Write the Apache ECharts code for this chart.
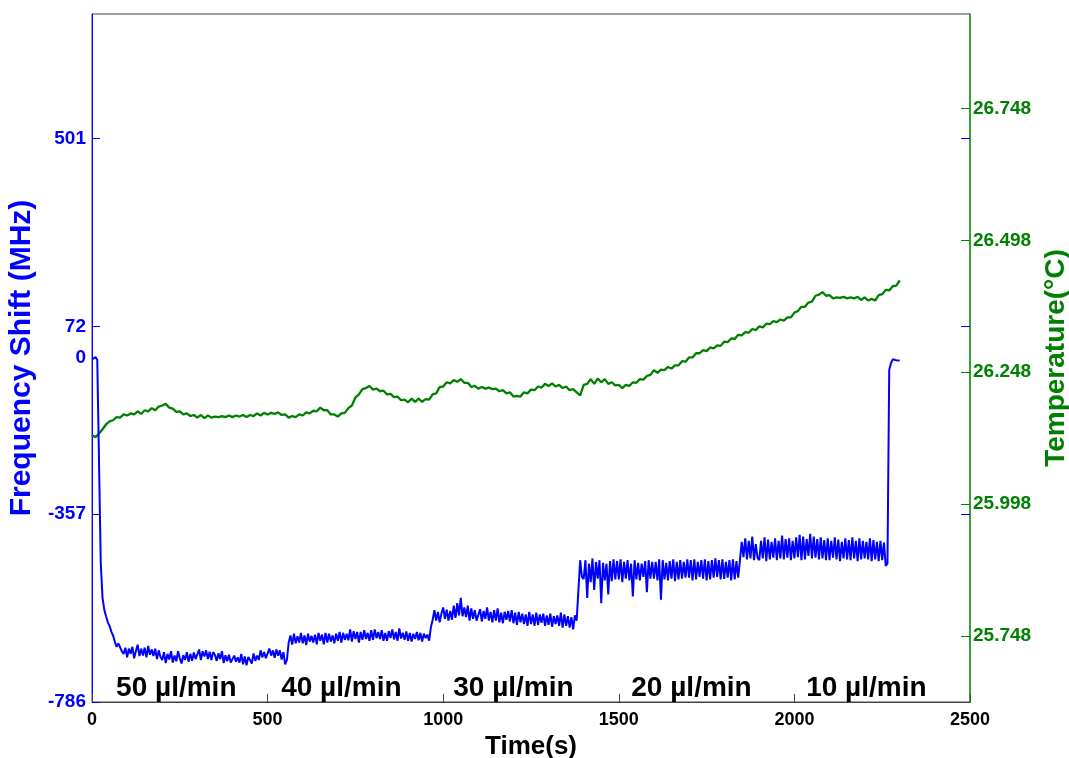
<!DOCTYPE html>
<html>
<head>
<meta charset="utf-8">
<title>Frequency shift and temperature</title>
<script src="https://cdn.jsdelivr.net/npm/echarts@6/dist/echarts.min.js"></script>
<style>
  html, body { margin: 0; padding: 0; background: #fff; }
  #chart { width: 1069px; height: 758px; }
</style>
</head>
<body>
<div id="chart"></div>
<script>
// sampling steps (s)
const freqStep = 5
const tempStep = 10

// frequency shift (MHz), one value every 5 s from 0 to 2300 s
const freqShift = [
  -3, 1, 2, -4, -6, -470, -548, -575, -590, -604, -612, -625, -634, -648, -660, -652, -648, -670, -676, -662,
  -684, -664, -676, -660, -686, -670, -655, -681, -664, -680, -662, -684, -658, -678, -666, -681, -664, -688, -668, -683,
  -690, -672, -697, -676, -689, -670, -696, -680, -693, -670, -686, -698, -679, -690, -672, -694, -676, -692, -673, -688,
  -684, -666, -690, -670, -682, -668, -688, -671, -690, -672, -678, -692, -675, -688, -670, -697, -679, -693, -678, -696,
  -700, -680, -694, -684, -696, -676, -700, -682, -702, -683, -690, -698, -675, -692, -680, -690, -668, -684, -672, -686,
  -682, -664, -680, -668, -685, -666, -680, -668, -689, -672, -700, -690, -650, -634, -655, -630, -652, -636, -650, -628,
  -652, -634, -656, -630, -648, -635, -650, -632, -654, -628, -646, -632, -654, -628, -650, -630, -648, -634, -652, -630,
  -646, -626, -650, -628, -644, -630, -645, -620, -648, -624, -642, -626, -650, -626, -644, -622, -642, -628, -646, -622,
  -644, -620, -640, -626, -642, -622, -646, -628, -646, -624, -640, -620, -643, -626, -646, -618, -641, -628, -644, -625,
  -646, -628, -648, -630, -642, -626, -645, -628, -648, -630, -640, -632, -646, -615, -598, -576, -600, -580, -604, -584,
  -570, -596, -575, -600, -578, -598, -566, -594, -560, -588, -548, -590, -570, -592, -566, -600, -572, -596, -576, -600,
  -598, -574, -602, -578, -596, -570, -600, -580, -604, -576, -600, -572, -604, -582, -606, -580, -598, -578, -602, -576,
  -606, -582, -610, -580, -604, -584, -608, -586, -612, -580, -608, -586, -612, -582, -610, -586, -605, -584, -612, -588,
  -610, -584, -614, -590, -608, -588, -612, -582, -616, -586, -612, -590, -616, -592, -620, -588, -600, -596, -462, -500,
  -505, -462, -548, -470, -512, -458, -530, -466, -504, -462, -560, -468, -508, -470, -540, -464, -510, -460, -506, -464,
  -506, -460, -512, -466, -504, -462, -508, -470, -545, -462, -506, -468, -508, -470, -500, -464, -535, -462, -504, -466,
  -504, -466, -508, -460, -552, -462, -506, -468, -508, -464, -504, -460, -510, -466, -506, -462, -504, -466, -502, -460,
  -502, -462, -508, -460, -506, -466, -500, -462, -504, -460, -508, -464, -506, -462, -502, -458, -500, -462, -506, -460,
  -505, -466, -502, -462, -508, -460, -506, -464, -502, -462, -420, -455, -412, -460, -418, -458, -408, -462, -425, -456,
  -462, -418, -458, -410, -464, -415, -460, -420, -456, -412, -462, -418, -458, -406, -460, -414, -456, -412, -462, -418,
  -458, -410, -455, -404, -462, -408, -460, -414, -452, -402, -458, -408, -456, -414, -460, -410, -458, -416, -462, -412,
  -462, -418, -456, -410, -460, -415, -464, -420, -458, -412, -460, -416, -462, -410, -458, -418, -464, -412, -460, -418,
  -458, -420, -460, -412, -464, -416, -460, -420, -464, -418, -462, -422, -475, -470, -27, -12, -3, -1, -5, -2,
  -6
]

// temperature (°C), one value every 10 s from 0 to 2300 s
const temperature = [
  26.129, 26.125, 26.132, 26.140, 26.149, 26.155, 26.157, 26.163, 26.162, 26.168,
  26.166, 26.170, 26.168, 26.174, 26.169, 26.176, 26.174, 26.180, 26.176, 26.183,
  26.185, 26.188, 26.181, 26.179, 26.173, 26.174, 26.168, 26.170, 26.165, 26.167,
  26.162, 26.167, 26.161, 26.166, 26.162, 26.164, 26.163, 26.165, 26.163, 26.166,
  26.163, 26.166, 26.164, 26.167, 26.163, 26.167, 26.165, 26.170, 26.166, 26.171,
  26.168, 26.171, 26.169, 26.172, 26.167, 26.168, 26.162, 26.165, 26.163, 26.168,
  26.166, 26.172, 26.170, 26.175, 26.174, 26.181, 26.176, 26.176, 26.168, 26.168,
  26.164, 26.170, 26.171, 26.180, 26.185, 26.200, 26.206, 26.216, 26.218, 26.222,
  26.215, 26.217, 26.212, 26.213, 26.206, 26.207, 26.201, 26.202, 26.195, 26.196,
  26.191, 26.198, 26.192, 26.198, 26.192, 26.197, 26.196, 26.206, 26.208, 26.220,
  26.221, 26.229, 26.227, 26.233, 26.230, 26.235, 26.228, 26.228, 26.220, 26.222,
  26.217, 26.220, 26.217, 26.219, 26.216, 26.217, 26.212, 26.214, 26.208, 26.210,
  26.202, 26.203, 26.202, 26.210, 26.208, 26.215, 26.214, 26.221, 26.219, 26.226,
  26.222, 26.227, 26.221, 26.224, 26.218, 26.221, 26.214, 26.216, 26.210, 26.204,
  26.224, 26.226, 26.235, 26.226, 26.236, 26.229, 26.235, 26.226, 26.229, 26.223,
  26.224, 26.218, 26.224, 26.222, 26.229, 26.228, 26.235, 26.234, 26.241, 26.243,
  26.252, 26.247, 26.253, 26.252, 26.258, 26.255, 26.261, 26.261, 26.269, 26.268,
  26.276, 26.276, 26.284, 26.284, 26.290, 26.288, 26.295, 26.293, 26.299, 26.298,
  26.306, 26.305, 26.312, 26.311, 26.319, 26.318, 26.324, 26.323, 26.330, 26.328,
  26.335, 26.333, 26.340, 26.339, 26.345, 26.343, 26.348, 26.346, 26.352, 26.352,
  26.361, 26.364, 26.372, 26.372, 26.380, 26.382, 26.393, 26.395, 26.400, 26.393,
  26.394, 26.388, 26.390, 26.389, 26.391, 26.388, 26.390, 26.388, 26.391, 26.385,
  26.390, 26.384, 26.387, 26.384, 26.394, 26.396, 26.404, 26.403, 26.411, 26.412,
  26.422
]

// axis ticks
const xTicks = [0, 500, 1000, 1500, 2000, 2500]
const freqTickLabels = [-786, -357, 0, 72, 501]
const freqTickMarks = [-786, -357, 72, 501]
const tempTicks = [25.748, 25.998, 26.248, 26.498, 26.748]

// flow-rate annotations (time, freq-axis value, text)
const flowTimes = [240, 710, 1200, 1707, 2205]
const flowLevel = -754
const flowLabels = ['50 µl/min', '40 µl/min', '30 µl/min', '20 µl/min', '10 µl/min']

const BLUE = '#0000ff'
const GREEN = '#008000'
const FONT = "'Liberation Sans', Arial, sans-serif"

const freqData = freqShift.map((v, i) => [i * freqStep, v])
const tempData = temperature.map((v, i) => [i * tempStep, v])
const flowData = flowTimes.map((t, i) => ({ value: [t, flowLevel], name: flowLabels[i] }))

const chart = echarts.init(document.getElementById('chart'))

const option = {
  animation: false,
  backgroundColor: '#fff',
  textStyle: { fontFamily: FONT },
  grid: {
    left: 92, right: 99, top: 14, bottom: 56,
    outerBoundsMode: 'none',
    containLabel: false,
    show: true, borderColor: '#444', borderWidth: 1
  },
  xAxis: {
    type: 'value',
    min: xTicks[0],
    max: xTicks[xTicks.length - 1],
    interval: 500,
    name: 'Time(s)',
    nameLocation: 'middle',
    nameGap: 25,
    nameTextStyle: { color: '#000', fontSize: 26, fontWeight: 'bold', fontFamily: FONT },
    axisLine: { show: true, onZero: false, lineStyle: { color: '#444', width: 1 } },
    axisTick: { inside: true, length: 8, lineStyle: { color: '#444' } },
    axisLabel: { color: '#000', fontSize: 18, fontWeight: 'bold', margin: 9, formatter: v => String(v) },
    splitLine: { show: false }
  },
  yAxis: [
    {
      type: 'value',
      min: -786,
      max: 786,
      position: 'left',
      name: 'Frequency Shift (MHz)',
      nameLocation: 'middle',
      nameRotate: 90,
      nameGap: 48,
      nameTextStyle: { color: BLUE, fontSize: 30, fontWeight: 'bold', fontFamily: FONT },
      axisLine: { show: true, onZero: false, lineStyle: { color: BLUE, width: 1 } },
      axisTick: { show: true, inside: true, length: 8, customValues: freqTickMarks, lineStyle: { color: BLUE } },
      axisLabel: { customValues: freqTickLabels, color: BLUE, fontSize: 19, fontWeight: 'bold', margin: 6 },
      splitLine: { show: false }
    },
    {
      type: 'value',
      min: 25.623,
      max: 26.927,
      position: 'right',
      name: 'Temperature(°C)',
      nameLocation: 'middle',
      nameRotate: 90,
      nameGap: 69,
      nameTextStyle: { color: GREEN, fontSize: 28, fontWeight: 'bold', fontFamily: FONT },
      axisLine: { show: true, onZero: false, lineStyle: { color: '#11a011', width: 1.5 } },
      axisTick: { show: true, inside: true, length: 9, customValues: tempTicks, lineStyle: { color: GREEN } },
      axisLabel: {
        customValues: tempTicks, color: GREEN, fontSize: 19, fontWeight: 'bold', margin: 3,
        formatter: v => v.toFixed(3)
      },
      splitLine: { show: false }
    },
    {
      // blue tick marks mirrored on the right edge
      type: 'value',
      min: -786,
      max: 786,
      position: 'right',
      axisLine: { show: false, onZero: false },
      axisTick: { show: true, inside: true, length: 9, customValues: freqTickMarks.slice(1), lineStyle: { color: BLUE } },
      axisLabel: { show: false },
      splitLine: { show: false }
    }
  ],
  series: [
    {
      name: 'Temperature',
      type: 'line',
      yAxisIndex: 1,
      data: tempData,
      showSymbol: false,
      lineStyle: { color: GREEN, width: 2.3 },
      z: 2
    },
    {
      name: 'Frequency Shift',
      type: 'line',
      yAxisIndex: 0,
      data: freqData,
      showSymbol: false,
      lineStyle: { color: BLUE, width: 2 },
      z: 3
    },
    {
      name: 'Flow rate',
      type: 'scatter',
      yAxisIndex: 0,
      data: flowData,
      symbolSize: 0,
      silent: true,
      itemStyle: { opacity: 1 },
      label: {
        show: true,
        position: 'inside',
        formatter: '{b}',
        color: '#000',
        opacity: 1,
        fontSize: 28,
        fontWeight: 'bold',
        fontFamily: FONT
      },
      z: 4
    }
  ]
}

chart.setOption(option)
window.addEventListener('resize', function () {
  chart.resize()
})
</script>
</body>
</html>
